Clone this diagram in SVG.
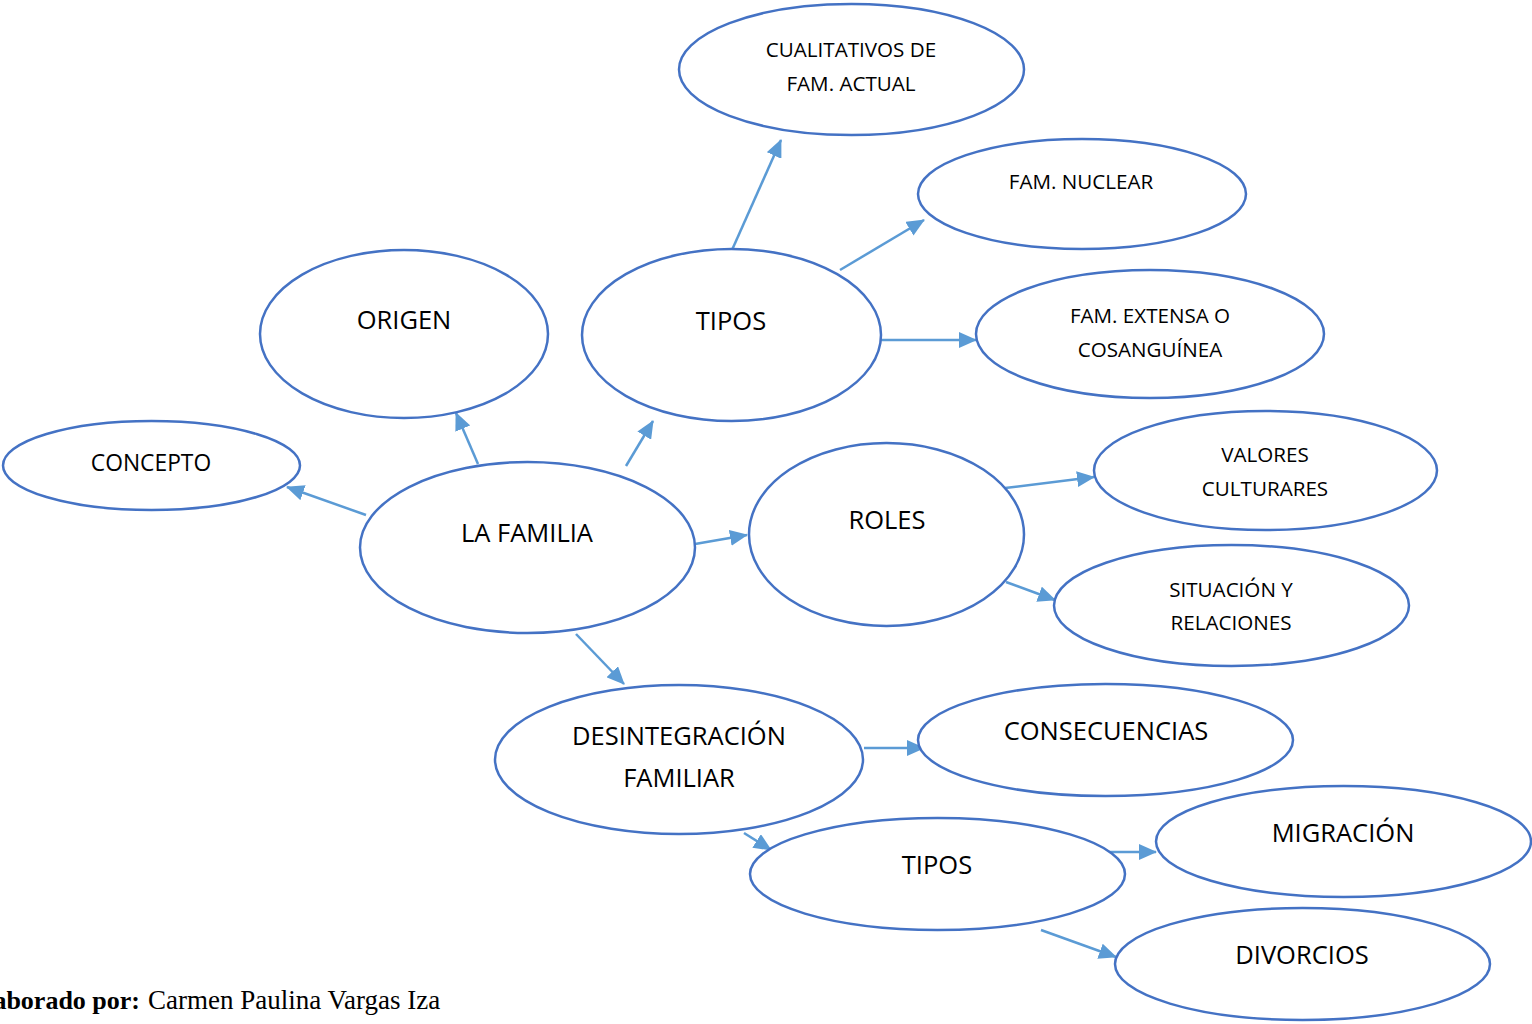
<svg xmlns="http://www.w3.org/2000/svg" width="1532" height="1024" viewBox="0 0 1532 1024">
<style>
.n ellipse{fill:#fff;stroke:#4472C4;stroke-width:2.5}
.t{font-family:"Open Sans","Noto Sans",sans-serif;fill:#000;text-anchor:middle}
.b{font-size:25.5px}
.s{font-size:20.6px}
.c line{stroke:#5B9BD5;stroke-width:2.5;marker-end:url(#ah)}
.f{font-family:"Liberation Serif","Times New Roman",serif;font-size:27px;fill:#000}
</style>
<defs>
<marker id="ah" markerUnits="userSpaceOnUse" markerWidth="18" markerHeight="16" viewBox="0 0 18 16" refX="17" refY="8" orient="auto">
<path d="M0,0 L18,8 L0,16 Z" fill="#5B9BD5"/>
</marker>
</defs>
<rect width="1532" height="1024" fill="#fff"/>
<g class="c" id="connectors">
<line x1="366" y1="515" x2="287" y2="487"/>
<line x1="478" y1="464" x2="456" y2="413"/>
<line x1="626" y1="466" x2="653" y2="421"/>
<line x1="732" y1="250" x2="781" y2="140"/>
<line x1="840" y1="270" x2="924" y2="220"/>
<line x1="881" y1="340" x2="976" y2="340"/>
<line x1="695" y1="544" x2="747" y2="535"/>
<line x1="1005" y1="488" x2="1094" y2="477"/>
<line x1="1006" y1="582" x2="1055" y2="600"/>
<line x1="576" y1="634" x2="624" y2="684"/>
<line x1="864" y1="748" x2="924" y2="748"/>
<line x1="744" y1="833" x2="771" y2="850"/>
<line x1="1098" y1="852" x2="1156" y2="852"/>
<line x1="1041" y1="930" x2="1116" y2="957"/>
</g>
<g class="n" id="cualitativos"><ellipse cx="851.5" cy="69.5" rx="172.5" ry="65.5"/><text class="t s" x="851" y="57">CUALITATIVOS DE</text><text class="t s" x="851" y="91">FAM. ACTUAL</text></g>
<g class="n" id="nuclear"><ellipse cx="1082" cy="194" rx="164" ry="55"/><text class="t s" x="1081" y="189">FAM. NUCLEAR</text></g>
<g class="n" id="origen"><ellipse cx="404" cy="334" rx="144" ry="84"/><text class="t b" x="404" y="329">ORIGEN</text></g>
<g class="n" id="tipos1"><ellipse cx="731.5" cy="335" rx="149.5" ry="86"/><text class="t b" x="731" y="330">TIPOS</text></g>
<g class="n" id="extensa"><ellipse cx="1150" cy="334" rx="174" ry="64"/><text class="t s" x="1150" y="323">FAM. EXTENSA O</text><text class="t s" x="1150" y="357">COSANGUÍNEA</text></g>
<g class="n" id="concepto"><ellipse cx="151.5" cy="465.5" rx="148.5" ry="44.5"/><text class="t" style="font-size:22.8px" x="151" y="471">CONCEPTO</text></g>
<g class="n" id="familia"><ellipse cx="527.5" cy="547.5" rx="167.5" ry="85.5"/><text class="t b" x="527" y="542">LA FAMILIA</text></g>
<g class="n" id="roles"><ellipse cx="886.5" cy="534.5" rx="137.5" ry="91.5"/><text class="t b" x="887" y="529">ROLES</text></g>
<g class="n" id="valores"><ellipse cx="1265.5" cy="470.5" rx="171.5" ry="59.5"/><text class="t s" x="1265" y="462">VALORES</text><text class="t s" x="1265" y="496">CULTURARES</text></g>
<g class="n" id="situacion"><ellipse cx="1231.5" cy="605.5" rx="177.5" ry="60.5"/><text class="t s" x="1231" y="597">SITUACIÓN Y</text><text class="t s" x="1231" y="630">RELACIONES</text></g>
<g class="n" id="desintegracion"><ellipse cx="679" cy="759.5" rx="184" ry="74.5"/><text class="t b" x="679" y="745">DESINTEGRACIÓN</text><text class="t b" x="679" y="787">FAMILIAR</text></g>
<g class="n" id="consecuencias"><ellipse cx="1105.5" cy="740" rx="187.5" ry="56"/><text class="t b" x="1106" y="740">CONSECUENCIAS</text></g>
<g class="n" id="tipos2"><ellipse cx="937.5" cy="874" rx="187.5" ry="56"/><text class="t b" x="937" y="874">TIPOS</text></g>
<g class="n" id="migracion"><ellipse cx="1343.5" cy="841.5" rx="187.5" ry="55.5"/><text class="t b" x="1343" y="842">MIGRACIÓN</text></g>
<g class="n" id="divorcios"><ellipse cx="1302.5" cy="964" rx="187.5" ry="56"/><text class="t b" x="1302" y="964">DIVORCIOS</text></g>
<g id="footer">
<text class="f" x="140" y="1009" text-anchor="end" font-weight="bold" style="font-size:26px">Elaborado por:</text>
<text class="f" x="148" y="1009">Carmen Paulina Vargas Iza</text>
</g>
</svg>
